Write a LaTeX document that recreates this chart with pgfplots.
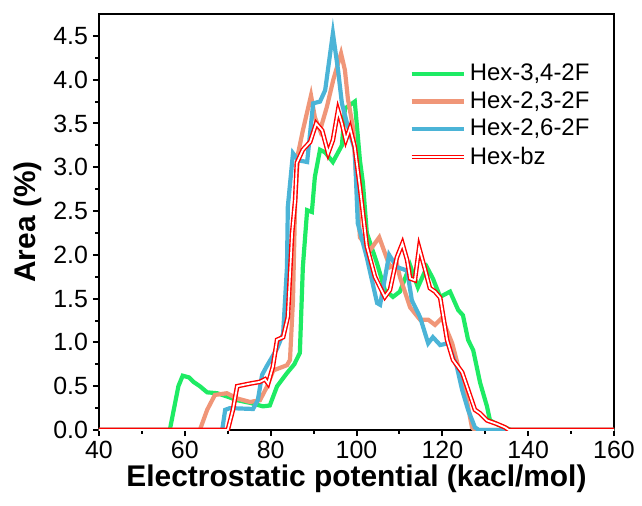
\documentclass[border=0pt]{standalone}
\usepackage{fontspec}
\setmainfont{Liberation Sans}
\usepackage{pgfplots}
\usetikzlibrary{calc}
\pgfplotsset{compat=1.18}
\definecolor{cgreen}{RGB}{30,235,100}
\definecolor{corange}{RGB}{240,150,120}
\definecolor{cblue}{RGB}{75,180,215}
\begin{document}
\begin{tikzpicture}
\begin{axis}[
  scale only axis,
  width=257.5bp, height=208bp,
  xmin=40, xmax=160, ymin=0, ymax=4.75,
  xtick={40,60,...,160},
  ytick={0,0.5,...,4.5},
  minor tick num=1,
  tick align=outside,
  xtick pos=bottom, ytick pos=left,
  major tick length=3bp, minor tick length=1.8bp,
  every tick/.style={black, line width=1bp},
  axis line style={line width=1.4bp},
  /pgf/number format/assume math mode=true,
  yticklabel style={/pgf/number format/fixed, /pgf/number format/fixed zerofill, /pgf/number format/precision=1, xshift=1bp},
  xticklabel style={yshift=1bp},
  ticklabel style={font=\fontsize{12.5}{14}\selectfont},
  xlabel={\textbf{Electrostatic potential (kacl/mol)}},
  ylabel={\textbf{Area (\%)}},
  label style={font=\fontsize{15}{17}\selectfont},
  xlabel style={yshift=4bp},
  ylabel style={yshift=-1bp},
  legend style={draw=none, fill=none, at={(0.59,0.90)}, anchor=north west,
    font=\fontsize{12}{14}\selectfont, row sep=0bp},
  legend cell align=left,
  legend image code/.code={\draw[#1] (0bp,0bp) -- (26bp,0bp);},
  clip=true,
]
\addplot[cgreen, line width=2.1bp] coordinates {
(40,0) (56.5,0) (58.5,0.5) (59.5,0.62) (61,0.6) (62,0.55) (63.5,0.5) (65.2,0.43) (67.5,0.42) (70,0.38) (72.2,0.34) (75.2,0.31) (78.2,0.27) (79.8,0.28) (81.5,0.5) (83.8,0.65) (85.5,0.75) (86.8,0.88) (87.5,1.86) (88.5,2.51) (89.6,2.49) (90.3,2.89) (91.5,3.2) (92.7,3.17) (94.5,3.06) (96.6,3.25) (97.3,3.67) (99.6,3.75) (100.8,3.08) (101.5,2.82) (102.4,2.25) (104.8,1.9) (106.6,1.6) (108.5,1.52) (110.1,1.58) (112.5,1.88) (114.3,1.63) (116.4,1.86) (117.8,1.73) (119.5,1.52) (121.8,1.58) (123.7,1.37) (124.8,1.31) (126,1.03) (127.2,0.91) (128.8,0.54) (130.4,0.27) (131.1,0.11) (133,0.06) (134.6,0.03) (136,0) (160,0)
};
\addlegendentry{Hex-3,4-2F}
\addplot[corange, line width=2.1bp] coordinates {
(40,0) (63.5,0) (65.2,0.23) (67,0.4) (69.8,0.42) (72.2,0.36) (75.2,0.32) (77.5,0.34) (79.1,0.49) (80.6,0.68) (83.8,0.74) (84.5,0.8) (85.2,1.48) (85.7,2.6) (86.4,3.16) (87.5,3.42) (89.4,3.82) (90.3,3.57) (91.5,3.42) (93.1,3.69) (94.6,4.0) (96.4,4.3) (97.3,4.11) (98,3.78) (99.2,3.45) (100.8,2.2) (103.1,2.05) (105.3,2.2) (107.8,1.86) (109.4,1.9) (110.1,1.75) (112.5,1.4) (114.8,1.26) (116.7,1.26) (118.3,1.2) (119.9,1.28) (122.3,0.99) (124.1,0.65) (125.7,0.34) (126.9,0.03) (127.5,0) (160,0)
};
\addlegendentry{Hex-2,3-2F}
\addplot[cblue, line width=2.1bp] coordinates {
(40,0) (68.7,0) (69.4,0.23) (70.5,0.25) (75.9,0.24) (77,0.34) (78,0.63) (79.1,0.73) (81.5,0.93) (82.9,1.1) (83.8,1.86) (84,2.55) (85.2,3.16) (86.4,3.08) (88.5,3.06) (89.9,3.73) (91.5,3.75) (92.7,3.88) (94.5,4.53) (95.7,4.11) (96.6,3.73) (97.8,3.5) (99.6,3.2) (100.3,2.36) (102.4,1.97) (104.8,1.45) (105.5,1.43) (107.6,2.0) (109.4,1.86) (111.8,1.82) (112.9,1.48) (114.8,1.29) (116.7,0.99) (117.8,1.06) (119.5,0.97) (121.3,0.99) (123.4,0.72) (124.6,0.46) (126,0.23) (127.6,0.03) (128.5,0) (160,0)
};
\addlegendentry{Hex-2,6-2F}
\addplot[red, line width=0.7bp, double=white, double distance=0.9bp] coordinates {
(40,0) (70,0) (71.2,0.23) (72.2,0.5) (75.2,0.53) (77.5,0.55) (78.7,0.58) (79.4,0.53) (80.5,0.72) (81.5,1.03) (82.9,1.06) (84,1.29) (85,2.25) (85.7,2.62) (86.1,3.05) (87.5,3.2) (89.2,3.29) (90.6,3.5) (92,3.42) (93.4,3.16) (94.5,3.31) (95.7,3.65) (96.6,3.5) (97.5,3.31) (98.5,3.45) (99.6,3.23) (100.8,2.77) (102.4,2.1) (104.3,1.75) (106.6,1.52) (107.8,1.6) (109.4,1.97) (110.7,2.13) (111.8,1.94) (112.5,1.73) (113.6,1.71) (114.6,2.08) (116,1.83) (117.1,1.62) (118.3,1.58) (119.5,1.51) (120.6,1.18) (121.1,1.03) (122.5,0.8) (124.6,0.66) (126,0.46) (127.6,0.23) (128.8,0.19) (130.4,0.11) (132.7,0.07) (134.6,0.03) (135.5,0) (160,0)
};
\addlegendentry{Hex-bz}
\end{axis}
\pgfresetboundingbox
\path (current axis.south west) ++(-49.5bp,-38bp) rectangle ($(current axis.north east)+(14bp,7bp)$);
\end{tikzpicture}
\end{document}
